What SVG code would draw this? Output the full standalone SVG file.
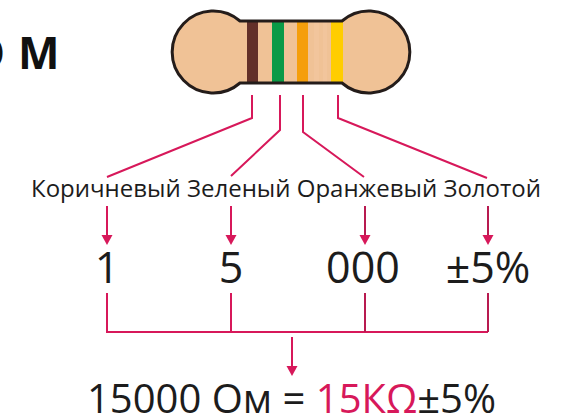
<svg xmlns="http://www.w3.org/2000/svg" width="562" height="418" viewBox="0 0 562 418">
  <defs>
    <style>
      .lead { fill: none; stroke: #D7185A; stroke-width: 2; stroke-linejoin: miter; }
      .lead-dark { fill: none; stroke: #B81A50; stroke-width: 2; }
      .head { fill: #D7185A; }
      .label { font-family: "Open Sans", "Noto Sans", sans-serif; font-size: 24px; fill: #1c1c1c; }
      .num { font-family: "Open Sans", "Noto Sans", sans-serif; font-size: 43px; fill: #1c1c1c; text-anchor: middle; }
      .result { font-family: "Open Sans", "Noto Sans", sans-serif; font-size: 40px; fill: #1c1c1c; }
      .title { font-family: "Open Sans", "Noto Sans", sans-serif; font-size: 44px; font-weight: bold; fill: #111; }
    </style>
    <path id="body" d="M240,21 H342 A41 41 0 1 1 342 83 H240 A41 41 0 1 1 240 21 Z"/>
  </defs>

  <rect width="562" height="418" fill="#ffffff"/>

  <!-- heading fragment -->
  <g id="title">
    <text class="title" x="-30 18" y="69">ОМ</text>
  </g>

  <!-- resistor with colour bands -->
  <g id="resistor">
    <use href="#body" fill="#F0C296"/>
    <rect x="247" y="22" width="11" height="61" fill="#633029"/>
    <rect x="272" y="22" width="12" height="61" fill="#0A9A46"/>
    <rect x="297" y="22" width="11" height="61" fill="#F59E0B"/>
    <rect x="314" y="22" width="5" height="61" fill="#F2C59C"/>
    <rect x="323" y="22" width="4" height="61" fill="#F2C59C"/>
    <rect x="331" y="22" width="12" height="61" fill="#FFCD00"/>
    <use href="#body" fill="none" stroke="#241C1A" stroke-width="3"/>
  </g>

  <!-- connectors -->
  <g id="connectors">
    <polyline class="lead" points="252,95 252,118 107,177"/>
    <polyline class="lead" points="280,95 280,130 231,176"/>
    <polyline class="lead" points="303,95 303,132 364,177"/>
    <polyline class="lead" points="338,95 338,118 487,178"/>

    <line class="lead" x1="107" y1="206" x2="107" y2="238"/>
    <polygon class="head" points="101.5,235 112.5,235 107,245"/>
    <line class="lead" x1="231" y1="206" x2="231" y2="238"/>
    <polygon class="head" points="225.5,235 236.5,235 231,245"/>
    <line class="lead-dark" x1="365" y1="206" x2="365" y2="238"/>
    <polygon class="head" points="359.5,235 370.5,235 365,245"/>
    <line class="lead-dark" x1="488" y1="206" x2="488" y2="238"/>
    <polygon class="head" points="482.5,235 493.5,235 488,245"/>

    <polyline class="lead" points="107,293 107,332 231,332"/>
    <line class="lead" x1="231" y1="293" x2="231" y2="332"/>
    <line class="lead" x1="231" y1="332" x2="488" y2="332"/>
    <line class="lead-dark" x1="365" y1="293" x2="365" y2="332"/>
    <line class="lead-dark" x1="488" y1="293" x2="488" y2="332"/>

    <line class="lead" x1="292" y1="337" x2="292" y2="369"/>
    <polygon class="head" points="286.5,366 297.5,366 292,376"/>
  </g>

  <!-- colour names -->
  <g id="labels">
    <text class="label" x="31" y="197">Коричневый Зеленый Оранжевый Золотой</text>
  </g>

  <!-- digit values -->
  <g id="n1"><text class="num" x="107" y="283">1</text></g>
  <g id="n2"><text class="num" x="231" y="283">5</text></g>
  <g id="n3"><text class="num" x="363" y="283">000</text></g>
  <g id="n4"><text class="num" x="488" y="283">±5%</text></g>

  <!-- result -->
  <g id="result">
    <text class="result" x="87" y="413">15000 Ом = <tspan fill="#D7185A">15КΩ</tspan>±5%</text>
  </g>
</svg>
